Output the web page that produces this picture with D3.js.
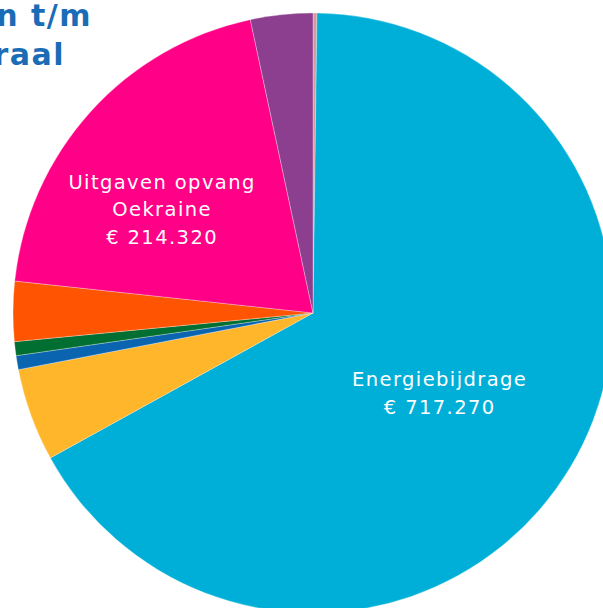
<!DOCTYPE html>
<html>
<head>
<meta charset="utf-8">
<script src="https://cdn.jsdelivr.net/npm/d3@7"></script>
<style>
  body { margin: 0; background: #ffffff; }
  svg { display: block; }
</style>
</head>
<body>
<svg id="chart" width="603" height="608"></svg>
<script>
// slices in clockwise order, starting at 12 o'clock
let categories = ['Overig', 'Energiebijdrage', 'Categorie 3', 'Categorie 4', 'Categorie 5', 'Categorie 6', 'Uitgaven opvang Oekraine', 'Categorie 8']
let values = [2270, 717270, 53720, 8060, 8060, 34620, 214320, 36000]
let colors = ['#d69a9c', '#00afd7', '#ffb62b', '#0a64b0', '#006f31', '#ff5502', '#ff0087', '#8c3f8e']

// only two slices carry a label
let labelLines = {
    'Energiebijdrage': ['Energiebijdrage', '€ 717.270'],
    'Uitgaven opvang Oekraine': ['Uitgaven opvang', 'Oekraine', '€ 214.320']
}

let titleLines = ['n t/m', 'raal']

let svg = d3.select('#chart')

let cx = 313, cy = 313, radius = 300

let pie = d3.pie()
    .sort(null)
    .value((d) => d.value)

let slices = pie(categories.map((c, i) => ({ name: c, value: values[i], color: colors[i] })))

let arc = d3.arc()
    .innerRadius(0)
    .outerRadius(radius)

let g = svg.append('g')
    .attr('transform', 'translate(' + cx + ',' + cy + ')')

g.selectAll('path')
    .data(slices)
    .enter()
    .append('path')
    .attr('d', arc)
    .attr('fill', (d) => d.data.color)
    .attr('stroke', '#ffffff')
    .attr('stroke-opacity', 0.5)
    .attr('stroke-width', 0.6)

// label positions: point on the slice's middle angle, nudged like the original
let nudge = {
    'Energiebijdrage': [-2, 3],
    'Uitgaven opvang Oekraine': [-15, 19]
}

let lineHeight = 27.5

slices.filter((d) => labelLines[d.data.name]).forEach((d) => {
    let lines = labelLines[d.data.name]
    let r = d.data.name == 'Energiebijdrage' ? radius * 0.5 : radius * 0.61
    let a = (d.startAngle + d.endAngle) / 2
    let x = Math.sin(a) * r + nudge[d.data.name][0]
    let y = -Math.cos(a) * r + nudge[d.data.name][1]
    let text = g.append('text')
        .attr('text-anchor', 'middle')
        .attr('fill', '#ffffff')
        .style('font-family', '"DejaVu Sans", sans-serif')
        .style('font-size', '19.5px')
        .style('letter-spacing', '1.4px')
    lines.forEach((line, i) => {
        text.append('tspan')
            .attr('x', x)
            .attr('y', y + (i - (lines.length - 1) / 2) * lineHeight + 7)
            .text(line)
    })
})

// title, cut off at the left edge of the picture
let title = svg.append('text')
    .attr('text-anchor', 'end')
    .attr('fill', '#1a6cb6')
    .style('font-family', '"DejaVu Sans", sans-serif')
    .style('font-weight', 'bold')
    .style('font-size', '30px')
    .style('letter-spacing', '1.5px')

title.append('tspan').attr('x', 92).attr('y', 26).text(titleLines[0])
title.append('tspan').attr('x', 65).attr('y', 65).text(titleLines[1])
</script>
</body>
</html>
